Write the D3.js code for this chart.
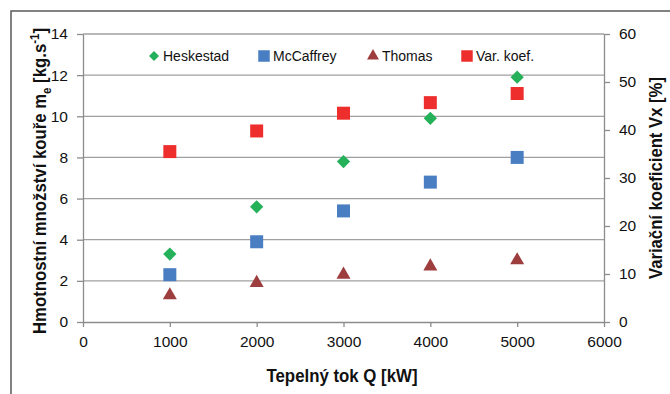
<!DOCTYPE html>
<html>
<head>
<meta charset="utf-8">
<script src="https://cdn.jsdelivr.net/npm/d3@7"></script>
<style>
  body { margin: 0; background: #fff; }
  svg { display: block; }
  text { font-family: "Liberation Sans", Arial, sans-serif; fill: #111; }
</style>
</head>
<body>
<svg id="chart" width="670" height="394"></svg>
<script>
// values
const heatFlow = [1000, 2000, 3000, 4000, 5000];
const heskestad = [3.3, 5.6, 7.8, 9.9, 11.9];
const mcCaffrey = [2.3, 3.9, 5.4, 6.8, 8.0];
const thomas = [1.3, 1.9, 2.3, 2.7, 3.0];
const varKoef = [35.5, 39.8, 43.5, 45.7, 47.6];   // right axis, %

const xTicks = [0, 1000, 2000, 3000, 4000, 5000, 6000];
const leftTicks = [0, 2, 4, 6, 8, 10, 12, 14];
const rightTicks = [0, 10, 20, 30, 40, 50, 60];

const svg = d3.select('#chart');

const plot = { left: 83, right: 604, top: 34, bottom: 322 };

const x = d3.scaleLinear().domain([0, 6000]).range([plot.left, plot.right]);
const yL = d3.scaleLinear().domain([0, 14]).range([plot.bottom, plot.top]);
const yR = d3.scaleLinear().domain([0, 60]).range([plot.bottom, plot.top]);

// outer frame (runs off the right and bottom edge)
svg.append('rect')
    .attr('x', 11).attr('y', 11)
    .attr('width', 700).attr('height', 400)
    .attr('fill', 'none')
    .attr('stroke', '#595959')
    .attr('stroke-width', 1.5);

// gridlines
svg.append('g')
    .selectAll('line')
    .data(leftTicks.slice(1))
    .join('line')
    .attr('x1', plot.left).attr('x2', plot.right)
    .attr('y1', d => yL(d)).attr('y2', d => yL(d))
    .attr('stroke', '#a0a0a0')
    .attr('stroke-width', 1.3);

const axisColor = '#8c8c8c';

function styleAxis(g) {
    g.selectAll('.domain').attr('stroke', axisColor).attr('stroke-width', 1.3);
    g.selectAll('.tick line').attr('stroke', axisColor).attr('stroke-width', 1.3);
    g.selectAll('.tick text')
        .style('font-family', '"Liberation Sans", Arial, sans-serif')
        .style('font-size', '15.5px')
        .attr('fill', '#111');
}

svg.append('g')
    .attr('transform', `translate(0,${plot.bottom})`)
    .call(d3.axisBottom(x).tickValues(xTicks).tickSize(5).tickSizeOuter(0).tickPadding(9).tickFormat(d3.format('d')))
    .call(styleAxis);

svg.append('g')
    .attr('transform', `translate(${plot.left},0)`)
    .call(d3.axisLeft(yL).tickValues(leftTicks).tickSize(6).tickSizeOuter(0).tickPadding(9).tickFormat(d3.format('d')))
    .call(styleAxis);

svg.append('g')
    .attr('transform', `translate(${plot.right},0)`)
    .call(d3.axisRight(yR).tickValues(rightTicks).tickSize(6).tickSizeOuter(0).tickPadding(9).tickFormat(d3.format('d')))
    .call(styleAxis);

// series
const series = [
    { name: 'Heskestad', values: heskestad, scale: yL, color: '#25b05a', shape: 'diamond' },
    { name: 'McCaffrey', values: mcCaffrey, scale: yL, color: '#4a7ec2', shape: 'square' },
    { name: 'Thomas', values: thomas, scale: yL, color: '#9e3d3d', shape: 'triangle' },
    { name: 'Var. koef.', values: varKoef, scale: yR, color: '#ee2d2d', shape: 'square' }
];

function markerPath(shape, big) {
    if (shape === 'diamond') return d3.symbol(d3.symbolSquare, big ? 88 : 50)();
    if (shape === 'triangle') return d3.symbol(d3.symbolTriangle, big ? 85 : 62)();
    return d3.symbol(d3.symbolSquare, big ? 169 : 132)();
}

series.forEach(s => {
    svg.append('g')
        .selectAll('path')
        .data(s.values)
        .join('path')
        .attr('d', markerPath(s.shape, true))
        .attr('transform', (d, i) => `translate(${x(heatFlow[i])},${s.scale(d)})` + (s.shape === 'diamond' ? ' rotate(45)' : ''))
        .attr('fill', s.color);
});

// legend
const legendX = [154, 264, 373, 467];
const legendY = 56;
const legend = svg.append('g');
series.forEach((s, i) => {
    legend.append('path')
        .attr('d', markerPath(s.shape, false))
        .attr('transform', `translate(${legendX[i]},${legendY})` + (s.shape === 'diamond' ? ' rotate(45)' : ''))
        .attr('fill', s.color);
    legend.append('text')
        .attr('x', legendX[i] + 9)
        .attr('y', legendY + 5)
        .style('font-size', '14px')
        .text(s.name);
});

// axis titles (narrowed to the reference's condensed look)
svg.append('text')
    .attr('x', 342)
    .attr('y', 382)
    .attr('text-anchor', 'middle')
    .attr('textLength', 151)
    .attr('lengthAdjust', 'spacingAndGlyphs')
    .style('font-size', '19px')
    .style('font-weight', 'bold')
    .text('Tepelný tok Q [kW]');

const leftTitle = svg.append('text')
    .attr('transform', 'translate(46,181) rotate(-90)')
    .attr('text-anchor', 'middle')
    .attr('textLength', 306)
    .attr('lengthAdjust', 'spacingAndGlyphs')
    .style('font-size', '19px')
    .style('font-weight', 'bold');
leftTitle.append('tspan').text('Hmotnostní množství kouře m');
leftTitle.append('tspan').attr('dy', 5).style('font-size', '13px').text('e');
leftTitle.append('tspan').attr('dy', -5).text(' [kg.s');
leftTitle.append('tspan').attr('dy', -7).style('font-size', '13px').text('-1');
leftTitle.append('tspan').attr('dy', 7).text(']');

svg.append('text')
    .attr('transform', 'translate(662,178) rotate(-90)')
    .attr('text-anchor', 'middle')
    .attr('textLength', 202)
    .attr('lengthAdjust', 'spacingAndGlyphs')
    .style('font-size', '19px')
    .style('font-weight', 'bold')
    .text('Variační koeficient Vx [%]');
</script>
</body>
</html>
